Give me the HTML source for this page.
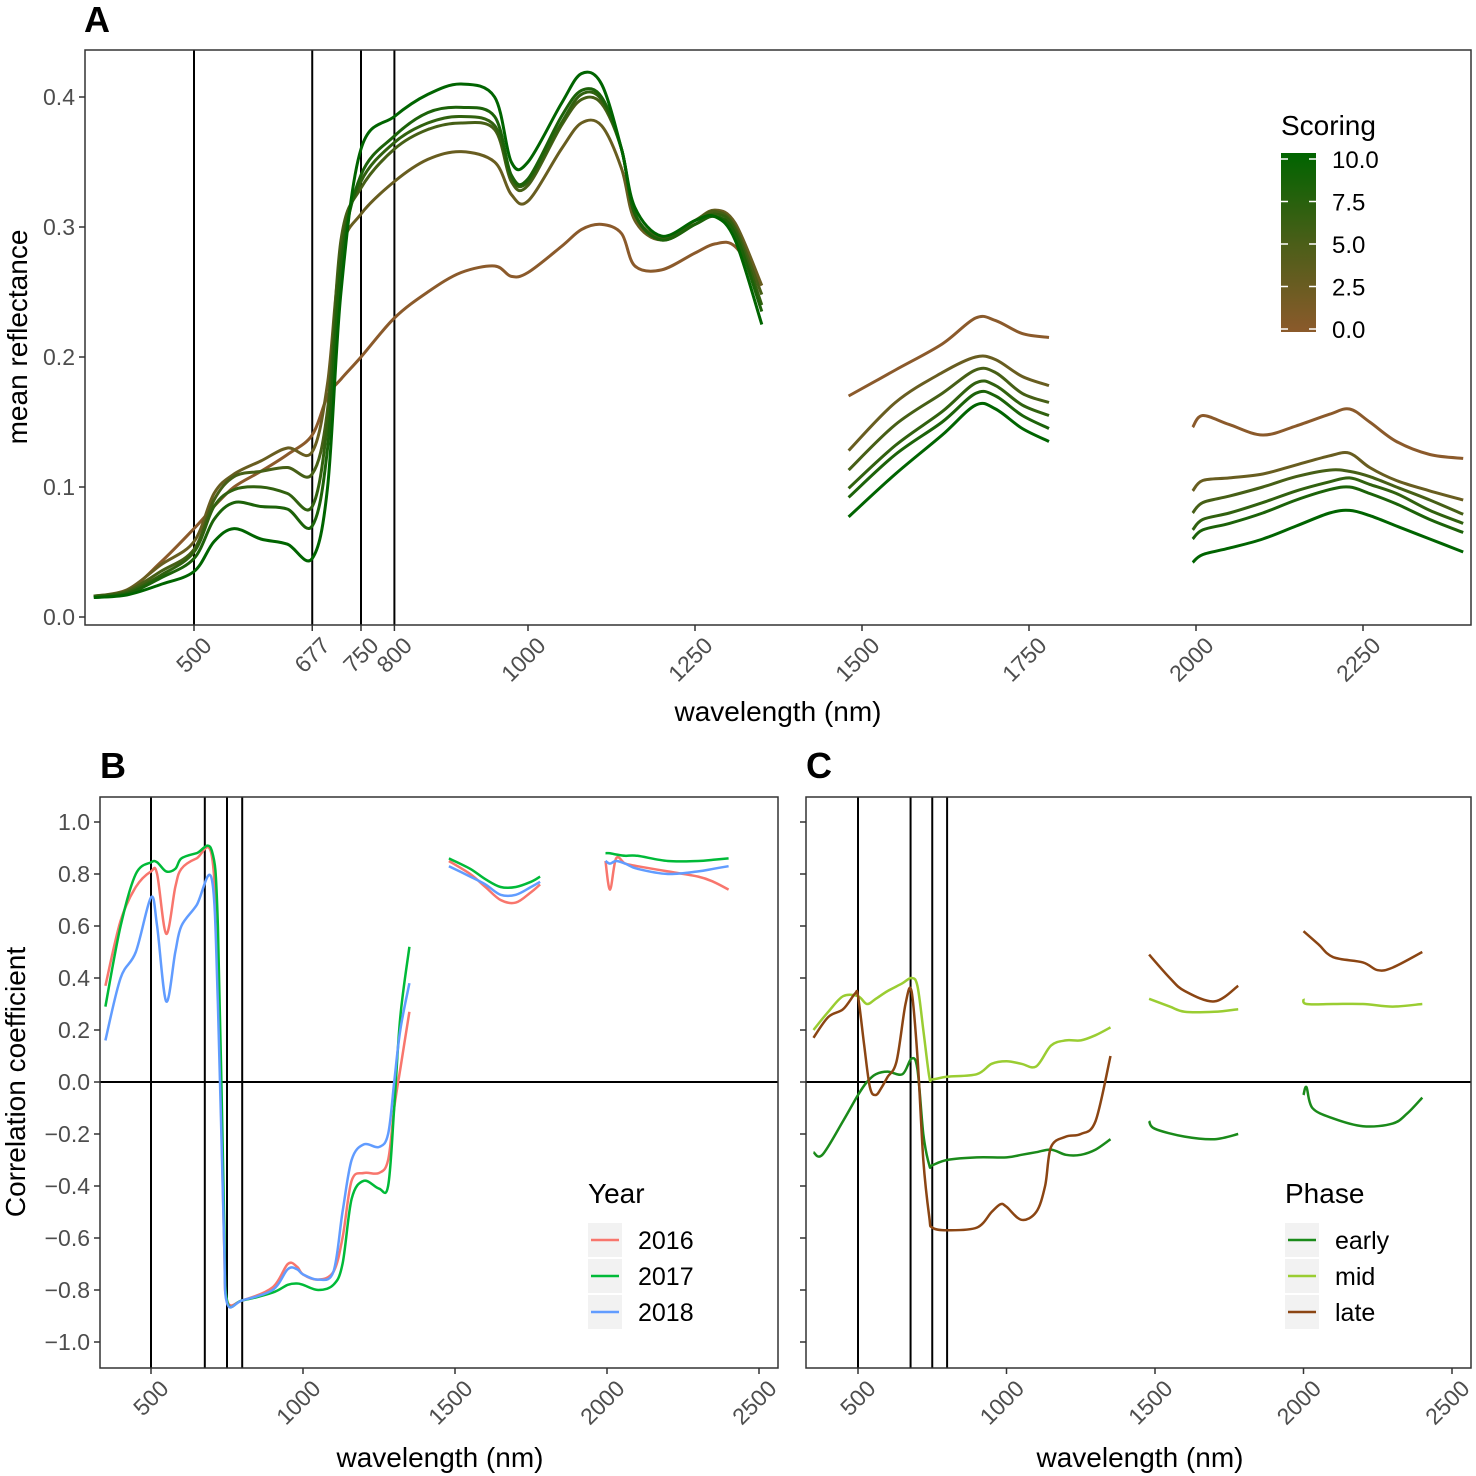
<!DOCTYPE html>
<html><head><meta charset="utf-8"><style>
html,body{margin:0;padding:0;background:#fff}
svg{display:block;font-family:"Liberation Sans",Arial,sans-serif}
</style></head><body>
<svg id="fig" width="1476" height="1476" viewBox="0 0 1476 1476" xmlns="http://www.w3.org/2000/svg">
<defs><linearGradient id="sgrad" x1="0" y1="1" x2="0" y2="0">
<stop offset="0" stop-color="#8b5a2b"/><stop offset="0.5" stop-color="#4a5e18"/><stop offset="1" stop-color="#006400"/></linearGradient></defs>
</svg>
<script>
// ---------- Panel A data ----------
const wlA=[350,400,450,500,530,560,600,640,677,700,720,750,800,850,900,950,975,1000,1050,1080,1110,1140,1160,1200,1250,1280,1310,1350,null,1480,1550,1620,1670,1700,1740,1780,null,1995,2010,2050,2100,2150,2200,2230,2260,2300,2350,2400];
const scoresA=[10,8,6.5,5,2.5,0];
const reflS10=[.015,.017,.025,.035,.058,.068,.06,.056,.045,.10,.25,.36,.385,.402,.41,.40,.35,.35,.395,.418,.41,.36,.315,.293,.305,.308,.29,.225,null,.077,.11,.14,.163,.16,.145,.135,null,.042,.048,.053,.06,.07,.08,.082,.078,.07,.06,.05];
const reflS8=[.015,.018,.03,.045,.075,.088,.085,.083,.07,.13,.27,.34,.37,.388,.392,.385,.34,.337,.385,.405,.40,.36,.31,.29,.302,.308,.295,.235,null,.092,.125,.15,.172,.17,.155,.145,null,.06,.067,.072,.08,.09,.098,.1,.095,.087,.075,.065];
const reflS6=[.016,.019,.032,.05,.085,.098,.1,.095,.085,.15,.28,.335,.365,.38,.385,.378,.338,.335,.38,.402,.398,.36,.31,.29,.302,.31,.298,.24,null,.099,.132,.158,.18,.178,.163,.155,null,.067,.075,.08,.088,.097,.104,.107,.102,.095,.082,.072];
const reflS5=[.016,.02,.035,.052,.09,.108,.112,.115,.11,.16,.29,.33,.36,.375,.38,.375,.335,.332,.378,.398,.395,.36,.31,.292,.305,.312,.3,.248,null,.113,.148,.172,.19,.188,.172,.165,null,.08,.088,.093,.1,.108,.113,.112,.108,.1,.09,.079];
const reflS2=[.016,.021,.04,.058,.095,.11,.12,.13,.127,.18,.28,.31,.335,.352,.358,.35,.325,.32,.36,.38,.378,.345,.305,.29,.305,.313,.303,.255,null,.128,.165,.188,.2,.198,.185,.178,null,.097,.105,.107,.11,.117,.124,.126,.115,.105,.097,.09];
const reflS0=[.016,.02,.042,.068,.085,.1,.112,.125,.14,.17,.183,.2,.23,.25,.265,.27,.262,.265,.285,.298,.302,.295,.27,.267,.28,.287,.285,.255,null,.17,.19,.21,.23,.228,.218,.215,null,.146,.155,.148,.14,.147,.156,.16,.15,.135,.125,.122];
const xTicksA=[500,677,750,800,1000,1250,1500,1750,2000,2250];
const yTicksA=[0,0.1,0.2,0.3,0.4];
const vlines=[500,677,750,800];
const legendA=[0,2.5,5,7.5,10];
// ---------- Panel B data ----------
const wlB=[350,400,450,500,520,550,580,600,650,700,720,740,750,800,900,950,980,1000,1050,1100,1130,1160,1200,1250,1280,1300,1320,1350,null,1480,1550,1600,1650,1700,1750,1780,null,1995,2010,2030,2060,2100,2200,2300,2350,2400];
const yearLabels=["2016","2017","2018"];
const r2016=[.37,.62,.75,.81,.8,.57,.75,.82,.86,.87,.4,-.6,-.84,-.84,-.79,-.7,-.71,-.74,-.76,-.73,-.6,-.38,-.35,-.35,-.3,-.1,.05,.27,null,.85,.8,.75,.7,.69,.73,.76,null,.85,.74,.86,.84,.83,.81,.79,.77,.74];
const r2017=[.29,.6,.8,.845,.845,.81,.82,.86,.88,.89,.6,-.5,-.84,-.84,-.81,-.78,-.775,-.78,-.8,-.78,-.7,-.45,-.38,-.41,-.4,-.1,.25,.52,null,.86,.82,.78,.75,.75,.77,.79,null,.88,.88,.875,.87,.87,.85,.85,.855,.86];
const r2018=[.16,.4,.5,.71,.6,.31,.5,.6,.68,.78,.3,-.6,-.85,-.84,-.8,-.72,-.72,-.74,-.76,-.73,-.5,-.3,-.24,-.25,-.2,0,.2,.38,null,.83,.79,.76,.72,.72,.75,.77,null,.85,.84,.85,.84,.82,.8,.81,.82,.83];
const xTicksBC=[500,1000,1500,2000,2500];
const yTicksBC=[-1,-0.8,-0.6,-0.4,-0.2,0,0.2,0.4,0.6,0.8,1];
// ---------- Panel C data ----------
const phaseLabels=["early","mid","late"];
const wlEarly=[350,380,450,500,530,560,600,650,680,700,720,740,750,800,900,1000,1050,1100,1150,1200,1250,1300,1350,null,1480,1500,1600,1700,1780,null,2000,2010,2030,2100,2200,2300,2350,2400];
const rEarly=[-.27,-.28,-.15,-.05,0,.03,.04,.03,.09,.05,-.2,-.32,-.32,-.3,-.29,-.29,-.28,-.27,-.26,-.28,-.28,-.26,-.22,null,-.15,-.18,-.21,-.22,-.2,null,-.05,-.02,-.1,-.14,-.17,-.16,-.12,-.06];
const wlMid=[350,400,450,500,530,560,600,650,680,700,720,740,750,800,900,950,1000,1050,1100,1150,1200,1250,1300,1350,null,1480,1550,1600,1700,1780,null,2000,2010,2100,2200,2300,2400];
const rMid=[.2,.27,.33,.33,.3,.32,.35,.38,.4,.37,.2,.02,.01,.02,.03,.07,.08,.07,.06,.14,.16,.16,.18,.21,null,.32,.29,.27,.27,.28,null,.32,.3,.3,.3,.29,.3];
const wlLate=[350,400,450,490,500,520,540,560,580,600,630,660,680,700,720,740,750,800,900,950,980,1000,1050,1100,1130,1150,1200,1250,1300,1350,null,1480,1550,1600,1700,1780,null,2000,2050,2100,2200,2250,2300,2400];
const rLate=[.17,.25,.28,.34,.33,.15,-.02,-.05,-.02,.02,.08,.3,.35,.1,-.3,-.52,-.56,-.57,-.56,-.5,-.47,-.48,-.53,-.5,-.4,-.25,-.21,-.2,-.15,.1,null,.49,.4,.35,.31,.37,null,.58,.53,.48,.46,.43,.44,.5];

const svg=document.getElementById('fig');
const NS="http://www.w3.org/2000/svg";
function mk(tag,attrs,parent){const e=document.createElementNS(NS,tag);for(const k in attrs)e.setAttribute(k,attrs[k]);(parent||svg).appendChild(e);return e;}
function lin(d0,d1,r0,r1){return v=>r0+(v-d0)*(r1-r0)/(d1-d0);}
function smoothPath(pts){
  let d="";
  for(let i=0;i<pts.length;i++){
    const p=pts[i];
    if(i===0){d+="M"+p[0].toFixed(1)+","+p[1].toFixed(1);continue;}
    const p0=pts[i-2]||pts[i-1],p1=pts[i-1],p3=pts[i+1]||p;
    const c1=[p1[0]+(p[0]-p0[0])/6,p1[1]+(p[1]-p0[1])/6];
    const c2=[p[0]-(p3[0]-p1[0])/6,p[1]-(p3[1]-p1[1])/6];
    d+="C"+c1[0].toFixed(1)+","+c1[1].toFixed(1)+" "+c2[0].toFixed(1)+","+c2[1].toFixed(1)+" "+p[0].toFixed(1)+","+p[1].toFixed(1);
  }
  return d;
}
function drawSeries(g,wl,vals,X,Y,color,w,name){
  let seg=[];const segs=[];
  for(let i=0;i<wl.length;i++){
    if(wl[i]===null||vals[i]===null){if(seg.length)segs.push(seg);seg=[];continue;}
    seg.push([X(wl[i]),Y(vals[i])]);
  }
  if(seg.length)segs.push(seg);
  segs.forEach((s,k)=>{
    const p=mk('path',{d:smoothPath(s),fill:'none',stroke:color,'stroke-width':w,'stroke-linejoin':'round'},g);
    
    
  });
}
function axes(name,L,T,R,B,X,Y,xt,yt,ylabels,yfmt){
  const g=mk('g',{});
  
  
  xt.forEach(v=>{
    const x=X(v);
    mk('line',{x1:x,x2:x,y1:B,y2:B+6,stroke:'#333','stroke-width':1.5},g);
    const ax=x+19,ay=B+22;
    const t=mk('text',{x:ax,y:ay,'font-size':23,fill:'#4d4d4d','text-anchor':'end',transform:`rotate(-45 ${ax} ${ay})`},g);
    t.textContent=v;
    
    
  });
  yt.forEach(v=>{
    const y=Y(v);
    mk('line',{x1:L-6,x2:L,y1:y,y2:y,stroke:'#333','stroke-width':1.5},g);
    if(ylabels){
      const t=mk('text',{x:L-10,y:y+8,'font-size':23,fill:'#4d4d4d','text-anchor':'end'},g);
      t.textContent=yfmt(v);
      
      
    }
  });
  return g;
}
function frame(name,L,T,R,B){
  const r=mk('rect',{x:L,y:T,width:R-L,height:B-T,fill:'none',stroke:'#333','stroke-width':1.5});
  
  
}
function txt(s,attrs,name){const t=mk('text',attrs);t.textContent=s;return t;}

// ===== Panel A =====
(function(){
  const L=85,T=50,R=1471,B=625;
  const X=lin(500,1000,194,528),Y=lin(0,0.4,617,97);
  const g=mk('g',{});
  
  
  vlines.forEach(v=>mk('line',{x1:X(v),x2:X(v),y1:T,y2:B,stroke:'#000','stroke-width':2},g));
  const cols=s=>{const t=s/10;const a=[139,90,43],b=[0,100,0];return `rgb(${a.map((c,i)=>Math.round(c+(b[i]-c)*t)).join(',')})`;};
  const series=[reflS0,reflS2,reflS5,reflS6,reflS8,reflS10];
  const sc=[0,2.5,5,6.5,8,10];
  series.forEach((s,i)=>drawSeries(g,wlA,s,X,Y,cols(sc[i]),3,'reflectance-score-'+sc[i]));
  frame('panel-a',L,T,R,B);
  axes('panel-a',L,T,R,B,X,Y,xTicksA,yTicksA,true,v=>v.toFixed(1));
  txt('A',{x:84,y:32,'font-size':36,'font-weight':'bold'},'panel-a-label');
  txt('wavelength (nm)',{x:778,y:721,'font-size':28,'text-anchor':'middle'},'panel-a-x-axis-title');
  txt('mean reflectance',{x:0,y:0,'font-size':28,'text-anchor':'middle',transform:'translate(27 337) rotate(-90)'},'panel-a-y-axis-title');
  txt('Scoring',{x:1281,y:135,'font-size':28},'legend-title-scoring');
  const lr=mk('rect',{x:1281,y:153,width:35,height:179,fill:'url(#sgrad)'});
  
  
  const LY=lin(0,10,329,159);
  legendA.forEach(v=>{
    const y=LY(v);
    mk('line',{x1:1281,x2:1288,y1:y,y2:y,stroke:'#fff','stroke-width':1.5});
    mk('line',{x1:1309,x2:1316,y1:y,y2:y,stroke:'#fff','stroke-width':1.5});
    txt(v.toFixed(1),{x:1332,y:y+9,'font-size':24},'colorbar-label');
  });
})();

// ===== Panel B =====
(function(){
  const L=100,T=797,R=778,B=1368;
  const X=lin(500,1000,151,303),Y=lin(0,1,1082,822);
  const g=mk('g',{});
  
  
  vlines.forEach(v=>mk('line',{x1:X(v),x2:X(v),y1:T,y2:B,stroke:'#000','stroke-width':2},g));
  mk('line',{x1:L,x2:R,y1:Y(0),y2:Y(0),stroke:'#000','stroke-width':2},g);
  const cols=['#F8766D','#00BA38','#619CFF'];
  [r2016,r2017,r2018].forEach((s,i)=>drawSeries(g,wlB,s,X,Y,cols[i],2.5,'corr-'+yearLabels[i]));
  frame('panel-b',L,T,R,B);
  axes('panel-b',L,T,R,B,X,Y,xTicksBC,yTicksBC,true,v=>(v<0?'\u2212':'')+Math.abs(v).toFixed(1));
  txt('B',{x:100,y:778,'font-size':36,'font-weight':'bold'},'panel-b-label');
  txt('wavelength (nm)',{x:440,y:1467,'font-size':28,'text-anchor':'middle'},'panel-b-x-axis-title');
  txt('Correlation coefficient',{x:0,y:0,'font-size':28,'text-anchor':'middle',transform:'translate(25 1082) rotate(-90)'},'panel-b-y-axis-title');
  txt('Year',{x:588,y:1203,'font-size':28},'legend-title-year');
  yearLabels.forEach((lab,i)=>{
    const y=1240+i*36;
    const k=mk('rect',{x:588,y:y-17,width:34,height:34,fill:'#f2f2f2'});
    
    
    mk('line',{x1:591,x2:619,y1:y,y2:y,stroke:cols[i],'stroke-width':2.5});
    txt(lab,{x:638,y:y+9,'font-size':25},'legend-entry-'+lab);
  });
})();

// ===== Panel C =====
(function(){
  const L=806,T=797,R=1471,B=1368;
  const X=lin(500,2500,858,1452),Y=lin(0,1,1082,822);
  const g=mk('g',{});
  
  
  vlines.forEach(v=>mk('line',{x1:X(v),x2:X(v),y1:T,y2:B,stroke:'#000','stroke-width':2},g));
  mk('line',{x1:L,x2:R,y1:Y(0),y2:Y(0),stroke:'#000','stroke-width':2},g);
  const cols=['#1a8a1a','#9ACD32','#8B4513'];
  drawSeries(g,wlEarly,rEarly,X,Y,cols[0],2.5,'corr-early');
  drawSeries(g,wlMid,rMid,X,Y,cols[1],2.5,'corr-mid');
  drawSeries(g,wlLate,rLate,X,Y,cols[2],2.5,'corr-late');
  frame('panel-c',L,T,R,B);
  axes('panel-c',L,T,R,B,X,Y,xTicksBC,yTicksBC,false,null);
  txt('C',{x:806,y:778,'font-size':36,'font-weight':'bold'},'panel-c-label');
  txt('wavelength (nm)',{x:1140,y:1467,'font-size':28,'text-anchor':'middle'},'panel-c-x-axis-title');
  txt('Phase',{x:1285,y:1203,'font-size':28},'legend-title-phase');
  phaseLabels.forEach((lab,i)=>{
    const y=1240+i*36;
    const k=mk('rect',{x:1285,y:y-17,width:34,height:34,fill:'#f2f2f2'});
    
    
    mk('line',{x1:1288,x2:1316,y1:y,y2:y,stroke:cols[i],'stroke-width':2.5});
    txt(lab,{x:1335,y:y+9,'font-size':25},'legend-entry-'+lab);
  });
})();
</script>
</body></html>
